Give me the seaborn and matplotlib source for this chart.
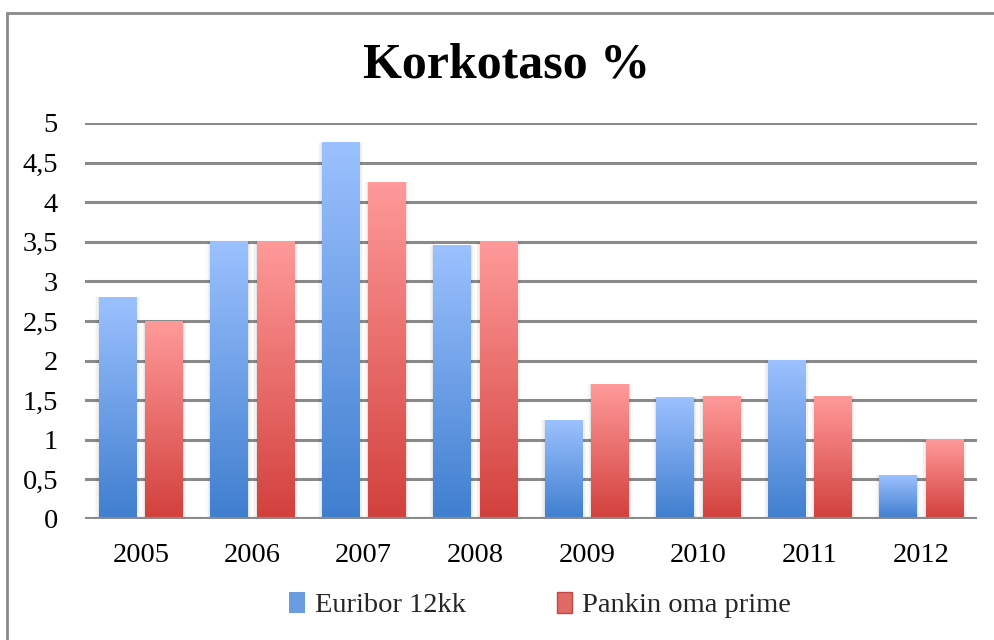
import numpy as np
import pandas as pd
import seaborn as sns
import matplotlib
matplotlib.use("Agg")
import matplotlib.pyplot as plt
from matplotlib.colors import LinearSegmentedColormap
from matplotlib.patches import Rectangle, Patch

years = ["2005", "2006", "2007", "2008", "2009", "2010", "2011", "2012"]
euribor = [2.80, 3.50, 4.75, 3.45, 1.25, 1.54, 2.00, 0.55]
prime = [2.50, 3.50, 4.25, 3.50, 1.70, 1.55, 1.55, 1.00]
series_names = ["Euribor 12kk", "Pankin oma prime"]
yticks = [0, 0.5, 1, 1.5, 2, 2.5, 3, 3.5, 4, 4.5, 5]
ytick_labels = ["0", "0,5", "1", "1,5", "2", "2,5", "3", "3,5", "4", "4,5", "5"]

df = pd.DataFrame({
    "year": years * 2,
    "value": euribor + prime,
    "series": [series_names[0]] * len(years) + [series_names[1]] * len(years),
})

sns.set_theme(style="white")
plt.rcParams["font.family"] = ["Liberation Serif", "DejaVu Serif"]

W, H = 995, 640
fig = plt.figure(figsize=(W / 100, H / 100), dpi=100)
ax = fig.add_axes([85 / W, 1 - 519 / H, (977 - 85) / W, (519 - 123) / H])

sns.barplot(data=df, x="year", y="value", hue="series", ax=ax,
            palette=["#4a86d4", "#d4443f"], width=0.835, gap=0.2,
            legend=False, zorder=3)

grads = {
    0: LinearSegmentedColormap.from_list("b", ["#3f7ecf", "#9cc1ff"]),
    1: LinearSegmentedColormap.from_list("r", ["#d2403c", "#ff9a9a"]),
}
grad = np.linspace(0, 1, 256).reshape(-1, 1)
n = len(years)
for i, p in enumerate(ax.patches[:2 * n]):
    s = 0 if i < n else 1
    x0, y0 = p.get_x(), p.get_y()
    w, h = p.get_width(), p.get_height()
    for k, a in enumerate([0.05, 0.035, 0.02]):
        d = 0.012 * (k + 1)
        ax.add_patch(Rectangle((x0 - d, y0 - 0.03 * (k + 1)), w + 2 * d, h + 0.03 * (k + 1),
                               facecolor="black", alpha=a, edgecolor="none", zorder=2))
    p.set_facecolor("none")
    p.set_edgecolor("none")
    ax.imshow(grad, extent=[x0, x0 + w, y0, y0 + h], origin="lower",
              cmap=grads[s], aspect="auto", zorder=3.5)

ax.set_xlim(-0.5, n - 0.5)
ax.set_ylim(0, 5)
ax.set_yticks(yticks)
ax.set_yticklabels(ytick_labels)
for y in yticks:
    ax.axhline(y, color="#8a8a8a", lw=2.2, zorder=1)
ax.axhline(0, color="#8a8a8a", lw=3, zorder=5)
for sp in ax.spines.values():
    sp.set_visible(False)
ax.set_xlabel("")
ax.set_ylabel("")
ax.tick_params(axis="both", length=0, labelsize=20.5, colors="black")
ax.tick_params(axis="y", pad=19.5)
ax.tick_params(axis="x", pad=17)
for lab in ax.get_yticklabels():
    lab.set_horizontalalignment("right")

fig.text(507 / W, 1 - 66 / H, "Korkotaso %", ha="center", va="center",
         fontsize=36, fontweight="bold", color="black")

handles = [Patch(facecolor="#6a9de0", edgecolor="none"),
           Patch(facecolor="#e06a66", edgecolor="#c04a46")]
fig.legend(handles, series_names, loc="center", bbox_to_anchor=(540 / W, 1 - 605 / H),
           ncol=2, frameon=False, fontsize=20.5, handlelength=0.55, handleheight=0.75,
           handletextpad=0.35, columnspacing=3.2)

fig.add_artist(Rectangle((7 / W, -0.1), 1.2, 1.1 - 13 / H, transform=fig.transFigure,
                         facecolor="none", edgecolor="#8a8a8a", lw=2))

fig.savefig("out.png", dpi=100)
